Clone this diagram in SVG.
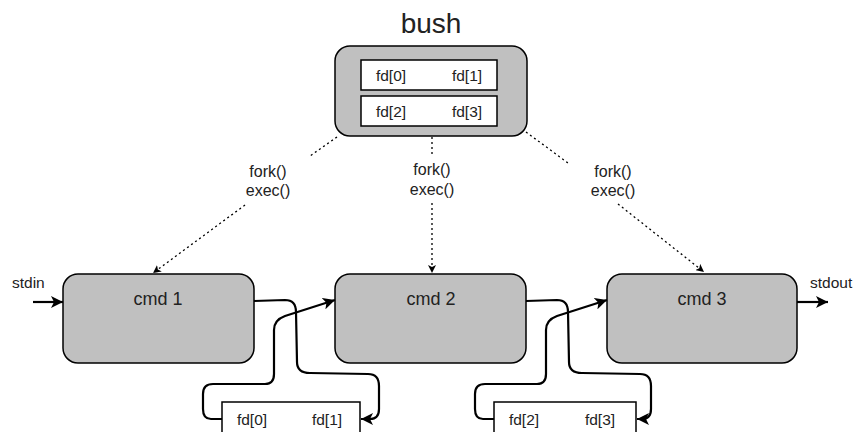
<svg xmlns="http://www.w3.org/2000/svg" width="857" height="432" viewBox="0 0 857 432">
<style>
.box{fill:#c0c0c0;stroke:#000;stroke-width:1.5}
.fd{fill:#fff;stroke:#000;stroke-width:1.5}
text{font-family:"Liberation Sans",Arial,Helvetica,sans-serif;fill:#222}
.t15{font-size:15.5px}
.cmd{font-size:18px;text-anchor:middle}
.lbl{font-size:15.5px;text-anchor:middle}
.fk{font-size:16px;text-anchor:middle}
.pipe{fill:none;stroke:#000;stroke-width:2.2;stroke-linejoin:round}
.dot{fill:none;stroke:#000;stroke-width:1.3;stroke-dasharray:2 3}
</style>
<defs>
<marker id="ah" markerUnits="userSpaceOnUse" markerWidth="14" markerHeight="12" refX="12" refY="6" orient="auto">
<path d="M0,0 L12,6 L0,12 L3,6 Z" fill="#000"/>
</marker>
<marker id="ahs" markerUnits="userSpaceOnUse" markerWidth="10" markerHeight="8" refX="8" refY="4" orient="auto">
<path d="M0,0 L8,4 L0,8 L2,4 Z" fill="#000"/>
</marker>
</defs>
<text x="431" y="33" font-size="28" text-anchor="middle">bush</text>
<g id="bush">
<rect class="box" x="335" y="46" width="192" height="90" rx="15"/>
<rect class="fd" x="361" y="60" width="136" height="30"/>
<rect class="fd" x="361" y="96" width="136" height="30"/>
<text class="lbl" x="391" y="81">fd[0]</text>
<text class="lbl" x="467" y="81">fd[1]</text>
<text class="lbl" x="391" y="117">fd[2]</text>
<text class="lbl" x="467" y="117">fd[3]</text>
</g>
<g id="cmd1">
<rect class="box" x="63" y="274" width="191" height="89" rx="15"/>
<text class="cmd" x="158" y="305">cmd 1</text>
</g>
<g id="cmd2">
<rect class="box" x="335" y="274" width="191" height="89" rx="15"/>
<text class="cmd" x="431" y="305">cmd 2</text>
</g>
<g id="cmd3">
<rect class="box" x="607" y="274" width="190" height="89" rx="15"/>
<text class="cmd" x="702" y="305">cmd 3</text>
</g>
<g id="pipe1">
<rect class="fd" x="222" y="402" width="138" height="40"/>
<text class="lbl" x="252" y="425">fd[0]</text>
<text class="lbl" x="327" y="425">fd[1]</text>
</g>
<g id="pipe2">
<rect class="fd" x="494" y="402" width="142" height="40"/>
<text class="lbl" x="524" y="425">fd[2]</text>
<text class="lbl" x="600" y="425">fd[3]</text>
</g>
<g id="stdin">
<text class="t15" x="12" y="288">stdin</text>
</g>
<g id="stdout">
<text class="t15" x="810" y="288">stdout</text>
</g>
<g id="connectors">
<line x1="33" y1="302" x2="63" y2="302" class="pipe" marker-end="url(#ah)"/>
<line x1="797" y1="302" x2="828" y2="302" class="pipe" marker-end="url(#ah)"/>
<path class="pipe" d="M254,301 L285,300 Q296,300 296,312 L297,362 Q297,373 310,373 L368,374 Q379,374 379,386 L379,409 Q379,419 370,419 L361,419" marker-end="url(#ah)"/>
<path class="pipe" d="M222,419 L211,419 Q203,419 203,409 L203,394 Q203,384 213,384 L265,384 Q274,384 274,374 L274,330 Q274,320 285,316 L335,300" marker-end="url(#ah)"/>
<path class="pipe" d="M526,301 L557,300 Q568,300 568,312 L569,362 Q569,373 582,373 L640,374 Q651,374 651,386 L651,409 Q651,419 642,419 L637,419" marker-end="url(#ah)"/>
<path class="pipe" d="M494,419 L483,419 Q475,419 475,409 L475,394 Q475,384 485,384 L537,384 Q546,384 546,374 L546,330 Q546,320 557,316 L607,300" marker-end="url(#ah)"/>
<line class="dot" x1="337" y1="137" x2="310" y2="156"/>
<line class="dot" x1="245" y1="205" x2="153" y2="273" marker-end="url(#ahs)"/>
<line class="dot" x1="432" y1="137" x2="432" y2="155"/>
<line class="dot" x1="432" y1="203" x2="432" y2="273" marker-end="url(#ahs)"/>
<line class="dot" x1="526" y1="132" x2="568" y2="163"/>
<line class="dot" x1="618" y1="204" x2="704" y2="272" marker-end="url(#ahs)"/>
<text class="fk" x="268" y="177">fork()</text>
<text class="fk" x="268" y="196">exec()</text>
<text class="fk" x="432" y="175">fork()</text>
<text class="fk" x="432" y="195">exec()</text>
<text class="fk" x="613" y="177">fork()</text>
<text class="fk" x="613" y="196">exec()</text>
</g>
</svg>
